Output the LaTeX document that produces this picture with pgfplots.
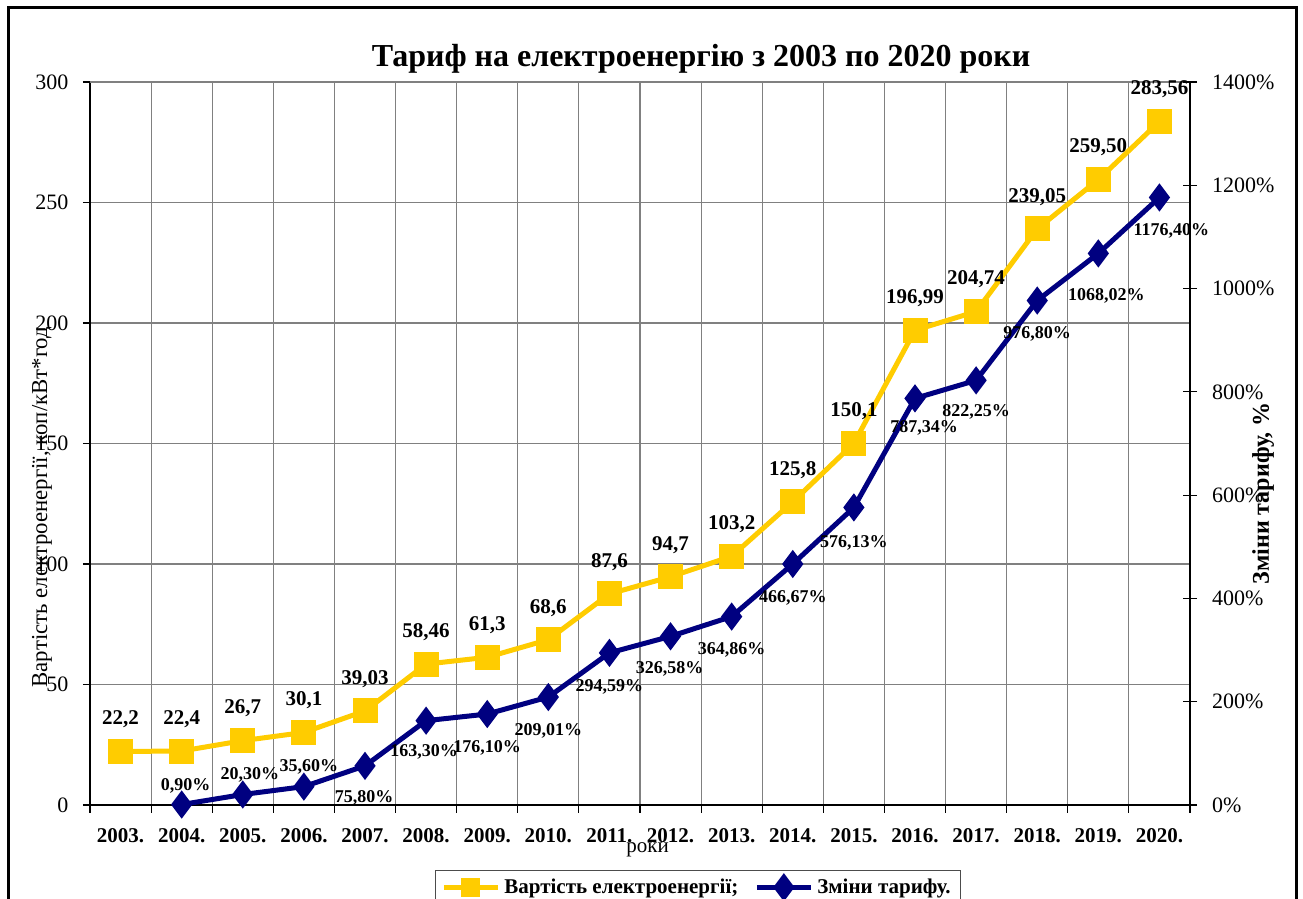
\documentclass[border=0pt]{standalone}
\usepackage{fontspec}
\setmainfont{Liberation Serif}
\usepackage{pgfplots}
\pgfplotsset{compat=1.18}
\usepackage{pgfplotstable}
\definecolor{tyellow}{RGB}{255,204,0}
\definecolor{tblue}{RGB}{0,0,128}
\definecolor{gridgray}{RGB}{128,128,128}

\pgfplotstableread{
x y lab
0 22.2 22,2
1 22.4 22,4
2 26.7 26,7
3 30.1 30,1
4 39.03 39,03
5 58.46 58,46
6 61.3 61,3
7 68.6 68,6
8 87.6 87,6
9 94.7 94,7
10 103.2 103,2
11 125.8 125,8
12 150.1 150,1
13 196.99 196,99
14 204.74 204,74
15 239.05 239,05
16 259.50 259,50
17 283.56 283,56
}\costdata

\pgfplotstableread{
x y lab dx dy
1 0.90 0,90 2 9.5
2 20.30 20,30 3.5 10
3 35.60 35,60 2.5 10
4 75.80 75,80 -0.5 -16
5 163.30 163,30 -1 -15.5
6 176.10 176,10 0 -17
7 209.01 209,01 0 -17
8 294.59 294,59 0 -17
9 326.58 326,58 -0.5 -16.5
10 364.86 364,86 0 -16.5
11 466.67 466,67 0 -17
12 576.13 576,13 0 -17.5
13 787.34 787,34 4.5 -15
14 822.25 822,25 0 -16
15 976.80 976,80 0 -16.5
16 1068.02 1068,02 4 -21
17 1176.40 1176,40 6 -16.5
}\changedata

\begin{document}
\begin{tikzpicture}
\pgfplotsset{
  base/.style={
    scale only axis, width=550pt, height=361.5pt,
    at={(45pt,47pt)}, anchor=south west,
    xmin=-0.5, xmax=17.5, clip=false,
    /pgf/number format/assume math mode=true,
    /pgf/number format/1000 sep={},
    tick label style={font=\fontsize{11}{13}\selectfont},
  },
}
\begin{axis}[base,
  ymin=0, ymax=300, ytick={0,50,...,300},
  axis x line*=bottom, axis y line*=left,
  x axis line style={-, black, line width=0.8pt},
  y axis line style={-, black, line width=0.8pt},
  xtick={0,...,17},
  xticklabels={2003.,2004.,2005.,2006.,2007.,2008.,2009.,2010.,2011.,2012.,2013.,2014.,2015.,2016.,2017.,2018.,2019.,2020.},
  xticklabel style={font=\bfseries\fontsize{10.5}{12}\selectfont, yshift=-4.5pt},
  yticklabel style={xshift=-3.8pt},
  major x tick style={draw=none},
  minor xtick={-0.5,0.5,...,17.5},
  xminorgrids=true, ymajorgrids=true,
  major grid style={gridgray, line width=0.6pt},
  minor grid style={gridgray, line width=0.6pt},
  tick style={black, line width=0.6pt},
  tick align=outside, major tick length=3.5pt, minor tick length=4pt,
  xlabel={роки},
  xlabel style={at={(axis description cs:0.507,-0.062)}, anchor=center, font=\fontsize{10.5}{12}\selectfont},
  ylabel={Вартість електроенергії, коп/кВт*год},
  ylabel style={at={(axis description cs:-0.0436,0.412)}, anchor=center, font=\fontsize{11.4}{13}\selectfont},
  title={Тариф на електроенергію з 2003 по 2020 роки},
  title style={at={(axis description cs:0.5555,1.016)}, anchor=center, font=\bfseries\fontsize{16}{19}\selectfont},
]
\draw[gridgray, line width=1.2pt] (axis description cs:0,1) -- (axis description cs:1,1);
\addplot[tyellow, line width=2.5pt, mark=square*, mark size=5pt, mark options={solid},
  point meta=explicit symbolic, nodes near coords,
  every node near coord/.append style={font=\bfseries\fontsize{10.5}{12}\selectfont, text=black, anchor=center, yshift=16pt}]
  table[x=x, y=y, meta=lab] {\costdata};
\end{axis}

\begin{axis}[base,
  ymin=0, ymax=1400, ytick={0,200,...,1400},
  axis y line*=right, axis x line=none,
  y axis line style={-, black, line width=0.8pt},
  yticklabel={\pgfmathprintnumber{\tick}\%},
  yticklabel style={xshift=4pt},
  tick style={black, line width=0.6pt},
  tick align=center, major tick length=7pt,
  ylabel={Зміни тарифу, \%},
  ylabel style={at={(axis description cs:1.0664,0.431)}, anchor=center, font=\bfseries\fontsize{12}{14}\selectfont},
  legend columns=2,
  legend style={at={(axis description cs:0.5527,-0.0899)}, anchor=north,
    draw=black!70, line width=0.5pt, font=\bfseries\fontsize{10.5}{12}\selectfont,
    /tikz/every even column/.append style={column sep=6pt}},
  legend image code/.code={\draw[mark repeat=2, mark phase=2, #1] plot coordinates {(0pt,0pt)(13.5pt,0pt)(27pt,0pt)};},
]
\addlegendimage{tyellow, line width=2.5pt, mark=square*, mark size=3.5pt, mark options={solid}}
\addlegendentry{Вартість електроенергії;}
\addplot[tblue, line width=2.5pt, mark=diamond*, mark size=5pt, mark options={solid},
  point meta=explicit symbolic,
  visualization depends on={\thisrow{dx} \as \dx},
  visualization depends on={\thisrow{dy} \as \dy},
  nodes near coords={\pgfplotspointmeta\%},
  every node near coord/.append style={font=\bfseries\fontsize{9}{11}\selectfont, text=black, anchor=center, xshift=\dx pt, yshift=\dy pt}]
  table[x=x, y=y, meta=lab] {\changedata};
\addlegendentry{Зміни тарифу.}
\end{axis}
\draw[line width=1.5pt] (4pt,-20pt) rectangle (648pt,445.5pt);
\pgfresetboundingbox
\path[use as bounding box] (0pt,0pt) rectangle (651.5pt,449.5pt);
\end{tikzpicture}
\end{document}
